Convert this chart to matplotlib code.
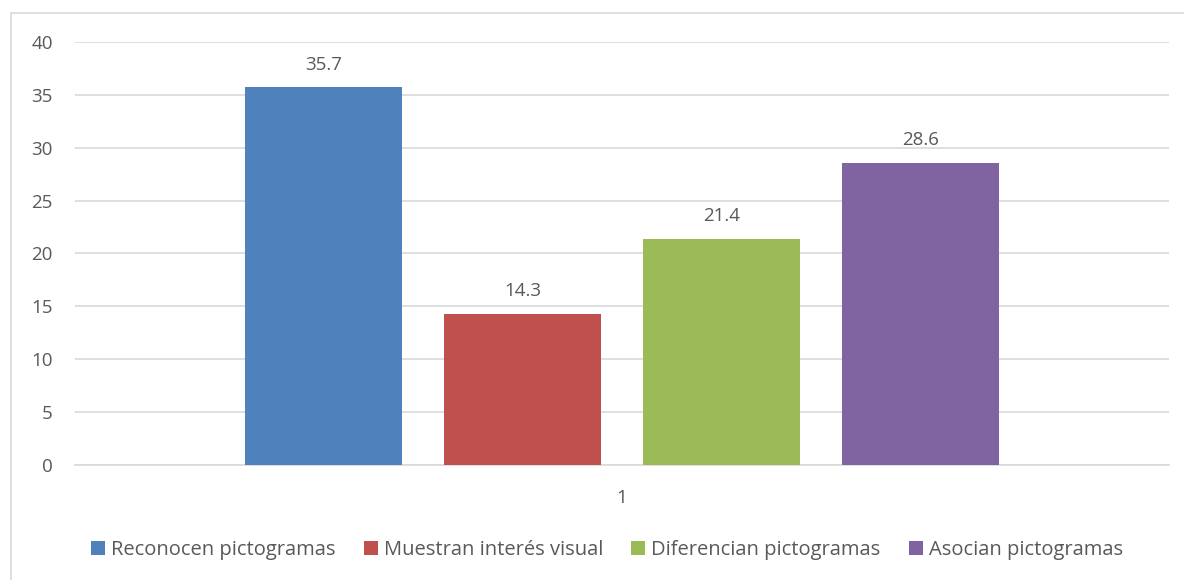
import matplotlib.pyplot as plt
from matplotlib.patches import Rectangle

# Single-category grouped column chart
categories = ["1"]
series_names = ["Reconocen pictogramas", "Muestran interés visual",
                "Diferencian pictogramas", "Asocian pictogramas"]
series_values = [35.7, 14.3, 21.4, 28.6]
series_colors = ["#4F81BD", "#C0504D", "#9BBB59", "#8064A2"]
y_ticks = [0, 5, 10, 15, 20, 25, 30, 35, 40]

plt.rcParams["font.family"] = ["Open Sans", "DejaVu Sans"]
text_color = "#595959"

W, H = 1184, 580
fig = plt.figure(figsize=(W / 100, H / 100), dpi=100)

# light grey chart-area border (runs off the right and bottom edges)
fig.patches.append(Rectangle((10.5 / W, -0.05), 1.2, 1 - 13 / H + 0.05,
                             transform=fig.transFigure, fill=False,
                             edgecolor="#D9D9D9", linewidth=1.2))

ax = fig.add_axes([75 / W, (H - 465) / H, (1169 - 75) / W, (465 - 42) / H])

step = 0.182
width = 0.1436
for i, (name, val, col) in enumerate(zip(series_names, series_values, series_colors)):
    x = 0 + (i - 1.5) * step
    ax.bar(x, val, width=width, color=col, label=name, zorder=3)
    ax.text(x, val + 1.3, f"{val}", ha="center", va="bottom",
            fontsize=13.5, color=text_color)

ax.set_xlim(-0.5, 0.5)
ax.set_ylim(0, 40)
ax.set_yticks(y_ticks)
ax.set_yticklabels([str(t) for t in y_ticks], fontsize=13.5, color=text_color)
ax.set_xticks([0])
ax.set_xticklabels(categories, fontsize=13.5, color=text_color)
ax.tick_params(axis="both", length=0)
ax.tick_params(axis="y", pad=16)
ax.tick_params(axis="x", pad=17)

ax.grid(axis="y", color="#D9D9D9", linewidth=1.2, zorder=0)
for s in ["top", "right", "left"]:
    ax.spines[s].set_visible(False)
ax.spines["bottom"].set_color("#D9D9D9")
ax.spines["bottom"].set_linewidth(1.2)

leg = fig.legend(loc="center", bbox_to_anchor=(607 / W, 1 - 550 / H), ncol=4,
                 frameon=False, fontsize=14.5, handlelength=0.7, handleheight=0.7,
                 handletextpad=0.3, columnspacing=1.4)
for t in leg.get_texts():
    t.set_color(text_color)

fig.savefig("out.png", dpi=100)
